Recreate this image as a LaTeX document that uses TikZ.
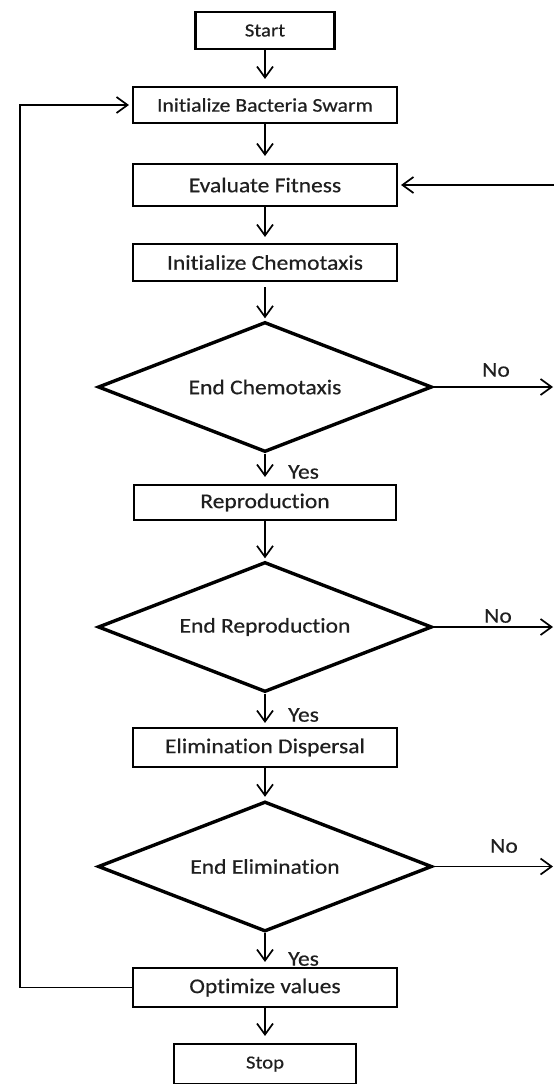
\documentclass[tikz,border=0pt]{standalone}
\usepackage{fontspec}
\setmainfont{Carlito}[FakeStretch=1.12, FakeBold=0.5, Ligatures=CommonOff]
\usetikzlibrary{arrows.meta,shapes.geometric}
\begin{document}
\begin{tikzpicture}[x=1pt,y=-1pt,
  every node/.style={text=black!88},
  txt/.style={font=\fontsize{21}{25}\selectfont},
  box/.style={draw, line width=2.1pt, inner sep=0pt, txt},
  decision/.style={draw, diamond, line width=3.4pt, inner sep=0pt,
    minimum width=334pt, minimum height=130pt, aspect=2.57, txt},
  conn/.style={line width=1.7pt, -{Straight Barb[length=11pt,width=16pt]}, shorten >=5pt},
  lbl/.style={txt, inner sep=0pt},
]
\useasboundingbox (0,0) rectangle (554,1084);

% process boxes and decisions
\node[box, minimum width=139pt, minimum height=37pt, font=\fontsize{18.5}{22}\selectfont] (start) at (265,30.5) {Start};
\node[box, minimum width=264pt, minimum height=36pt, font=\fontsize{19.4}{23}\selectfont] (init) at (265,105) {Initialize Bacteria Swarm};
\node[box, minimum width=264pt, minimum height=42pt] (eval) at (265,185) {Evaluate Fitness};
\node[box, minimum width=264pt, minimum height=37pt] (chemo) at (265,262.5) {Initialize Chemotaxis};
\node[decision] (d1) at (265,387) {End Chemotaxis};
\node[box, minimum width=262pt, minimum height=35pt] (repro) at (265,502.5) {Reproduction};
\node[decision] (d2) at (265,627) {End Reproduction};
\node[box, minimum width=264pt, minimum height=39pt] (elim) at (265,747.5) {Elimination Dispersal};
\node[decision] (d3) at (265,866.5) {End Elimination};
\node[box, minimum width=264pt, minimum height=39pt] (opt) at (265,987.5) {Optimize values};
\node[box, minimum width=182pt, minimum height=40pt, font=\fontsize{18.5}{22}\selectfont] (stop) at (265,1064) {Stop};

% free ends at the right border
\coordinate (rin) at (556,185);
\coordinate (no1e) at (553,387);
\coordinate (no2e) at (553,627);
\coordinate (no3e) at (553,866.5);

% main flow
\draw[conn, shorten >=7pt] (start) -- (init);
\draw[conn, shorten >=7pt] (init) -- (eval);
\draw[conn, shorten >=6pt] (eval) -- (chemo);
\draw[conn, shorten <=5pt, shorten >=2pt] (chemo) -- (d1);
\draw[conn, shorten >=7pt] (d1) -- (repro);
\draw[conn, shorten >=2pt] (repro) -- (d2);
\draw[conn, shorten >=4pt] (d2) -- (elim);
\draw[conn, shorten >=3pt] (elim) -- (d3);
\draw[conn, shorten >=5pt] (d3) -- (opt);
\draw[conn, shorten >=7pt] (opt) -- (stop);

% loops and exits
\draw[conn, shorten >=3pt] (opt.west) -- ++(-112,0) |- (init.west);
\draw[conn, shorten >=3pt] (rin) -- (eval.east);
\draw[conn, shorten >=0pt] (d1.east) -- (no1e);
\draw[conn, shorten >=0pt] (d2.east) -- (no2e);
\draw[conn, shorten >=0pt] (d3.east) -- (no3e);

% branch labels
\node[lbl, anchor=west] (yes1) at (288,472) {Yes};
\node[lbl, anchor=west] (yes2) at (288,715) {Yes};
\node[lbl, anchor=west] (yes3) at (288,959) {Yes};
\node[lbl] (no1) at (496,370) {No};
\node[lbl] (no2) at (498,616) {No};
\node[lbl] (no3) at (504,846) {No};
\end{tikzpicture}
\end{document}
